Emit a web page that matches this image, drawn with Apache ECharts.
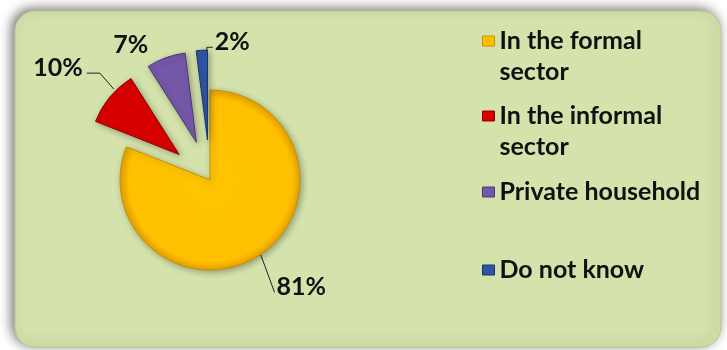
<!DOCTYPE html>
<html>
<head>
<meta charset="utf-8">
<script src="https://cdn.jsdelivr.net/npm/echarts@6/dist/echarts.min.js"></script>
<style>
  html, body { margin: 0; padding: 0; background: #ffffff; }
  #chart { width: 727px; height: 350px; }
</style>
</head>
<body>
<div id="chart"></div>
<script>
// Where respondents work: share of each sector (percent)
const categories = ['In the formal sector', 'In the informal sector', 'Private household', 'Do not know'];
const legendLines = ['In the formal\nsector', 'In the informal\nsector', 'Private household', 'Do not know'];
const shares = [81, 10, 7, 2];
const colors = ['#FFC000', '#D80000', '#7458A8', '#2F55A4'];
const rims = ['#C99000', '#8E0000', '#4E3878', '#1B3370'];

const FONT = 'Lato';
const FS = 25;
const LH = 31;

const chart = echarts.init(document.getElementById('chart'), null, { renderer: 'canvas' });

// one legend block per category so each can sit at its own height;
// two-line names get an empty first line so the swatch lines up with the first text line
const legendTops = [-5.5, 69.5, 176.5, 254.5];
const legends = categories.map((name, i) => {
  const twoLine = legendLines[i].indexOf('\n') >= 0;
  return {
    orient: 'vertical',
    left: 482,
    top: legendTops[i],
    padding: 0,
    itemWidth: 12,
    itemHeight: 10,
    icon: 'rect',
    selectedMode: false,
    data: [{ name: name, itemStyle: { color: colors[i], borderColor: rims[i], borderWidth: 1 } }],
    formatter: () => (twoLine ? '\n' : '') + legendLines[i],
    textStyle: {
      fontFamily: FONT,
      fontWeight: 'bold',
      fontSize: FS,
      color: '#111111',
      lineHeight: LH
    }
  };
});

const pieData = categories.map((name, i) => ({
  name: name,
  value: shares[i],
  selected: i > 0,
  itemStyle: {
    color: i === 0 ? {
      type: 'radial', x: 0.5, y: 0.5, r: 0.5,
      colorStops: [
        { offset: 0, color: '#FFC400' },
        { offset: 0.9, color: '#FFC000' },
        { offset: 1, color: '#E6A200' }
      ]
    } : colors[i],
    borderColor: rims[i],
    borderWidth: 1
  },
  labelLine: { show: i !== 2, length: i === 2 ? 14 : 0, length2: i === 2 ? 9 : 0 }
}));

// leader-line bends and label nudges, relative to each slice's outer edge point
const leaderBends = [
  { pts: [[0, 0], [14, 38]], dx: 12, dy: 33 },
  { pts: [[4, -8], [-10, -24], [-23, -24]], dx: -23, dy: -29 },
  null,
  { pts: [[5, 0], [5, -3], [11, -3]], dx: 17, dy: -8, align: 'left' }
];

const option = {
  backgroundColor: '#ffffff',
  animation: false,
  graphic: [{
    type: 'rect',
    shape: { x: 15, y: 11, width: 706, height: 336, r: 20 },
    style: {
      fill: '#D4E3AC',
      stroke: '#B9CB8C',
      lineWidth: 1,
      shadowBlur: 12,
      shadowOffsetX: -3,
      shadowOffsetY: -2,
      shadowColor: 'rgba(0,0,0,0.55)'
    },
    z: -10
  }],
  legend: legends,
  series: [{
    type: 'pie',
    center: [210, 180],
    radius: 90,
    startAngle: 90,
    clockwise: true,
    selectedMode: 'multiple',
    selectedOffset: 40,
    avoidLabelOverlap: false,
    emphasis: { disabled: true },
    itemStyle: {
      shadowBlur: 6,
      shadowOffsetX: 2,
      shadowOffsetY: 2,
      shadowColor: 'rgba(0,0,0,0.3)'
    },
    label: {
      show: true,
      position: 'outside',
      formatter: p => p.value + '%',
      fontFamily: FONT,
      fontWeight: 'bold',
      fontSize: FS,
      color: '#111111',
      distanceToLabelLine: 4
    },
    labelLine: {
      lineStyle: { color: '#222222', width: 1 }
    },
    labelLayout: function (params) {
      const bend = leaderBends[params.dataIndex];
      const pts = params.labelLinePoints;
      if (!bend || !pts) return {};
      const e = pts[0];
      const out = {
        dx: bend.dx,
        dy: bend.dy,
        labelLinePoints: bend.pts.map(q => [e[0] + q[0], e[1] + q[1]])
      };
      if (bend.align) out.align = bend.align;
      return out;
    },
    data: pieData
  }]
};

chart.setOption(option);
</script>
</body>
</html>
